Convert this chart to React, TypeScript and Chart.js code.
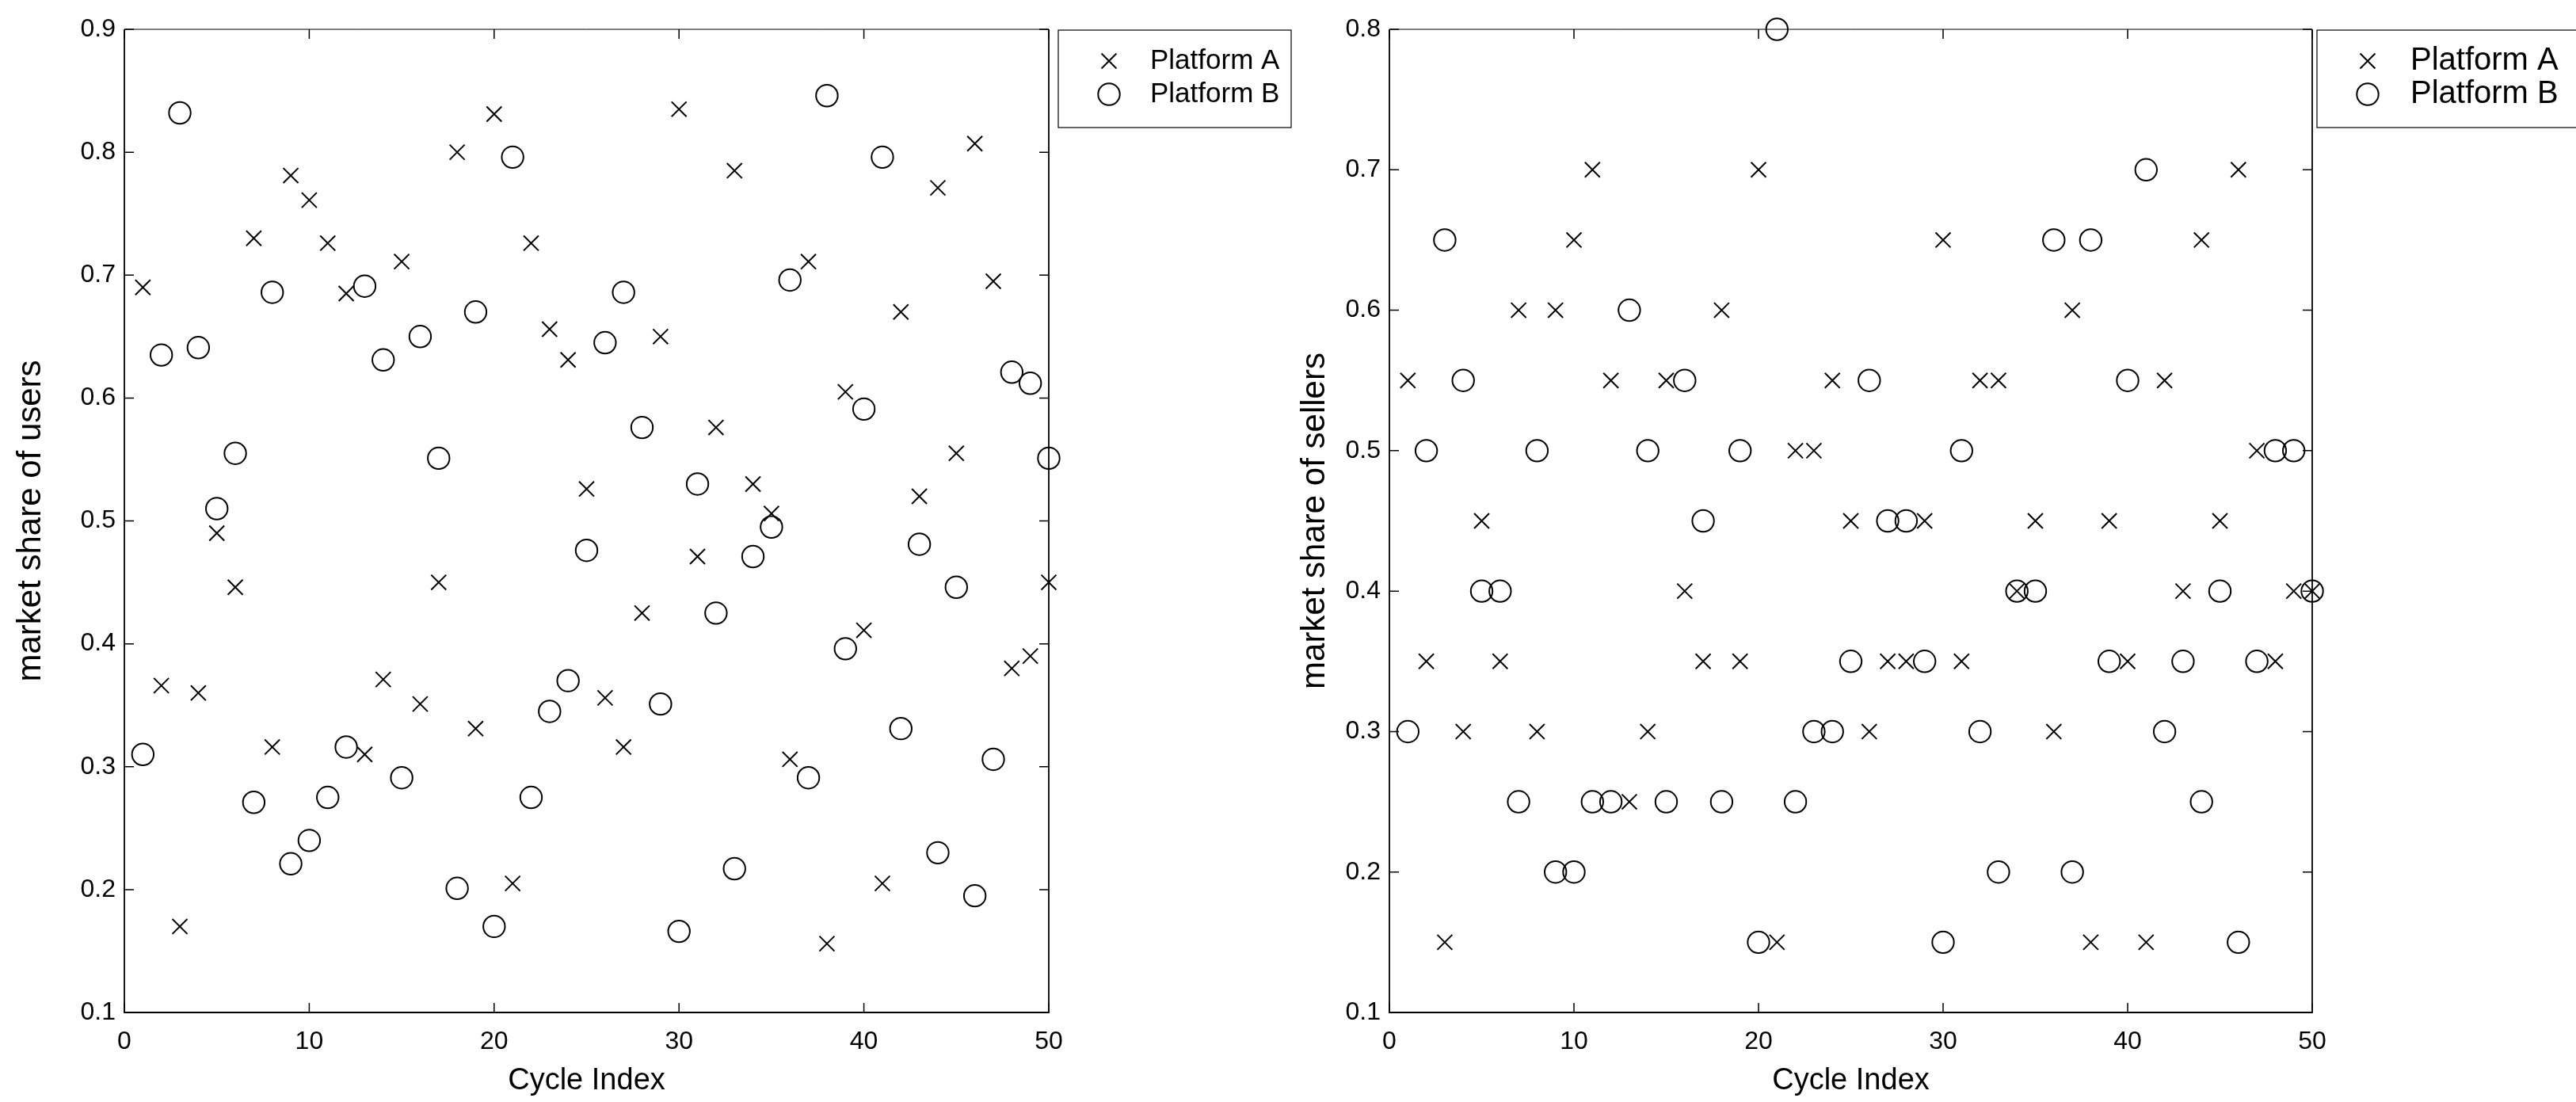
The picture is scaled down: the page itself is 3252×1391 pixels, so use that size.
import React, { useEffect, useRef } from 'react';
import { Chart, registerables } from 'chart.js';

Chart.register(...registerables);

// ---------------- data ----------------
const cycleIndex = [
  1, 2, 3, 4, 5, 6, 7, 8, 9, 10,
  11, 12, 13, 14, 15, 16, 17, 18, 19, 20,
  21, 22, 23, 24, 25, 26, 27, 28, 29, 30,
  31, 32, 33, 34, 35, 36, 37, 38, 39, 40,
  41, 42, 43, 44, 45, 46, 47, 48, 49, 50,
];

const usersPlatformA = [
  0.69, 0.366, 0.17, 0.36, 0.49, 0.446, 0.73, 0.316, 0.781, 0.761,
  0.726, 0.685, 0.31, 0.371, 0.711, 0.351, 0.45, 0.8, 0.331, 0.831,
  0.205, 0.726, 0.656, 0.631, 0.526, 0.356, 0.316, 0.425, 0.65, 0.835,
  0.471, 0.576, 0.785, 0.53, 0.506, 0.306, 0.711, 0.156, 0.605, 0.411,
  0.205, 0.67, 0.52, 0.771, 0.555, 0.807, 0.695, 0.38, 0.39, 0.45,
];

const usersPlatformB = [
  0.31, 0.635, 0.832, 0.641, 0.51, 0.555, 0.271, 0.686, 0.221, 0.24,
  0.275, 0.316, 0.691, 0.631, 0.291, 0.65, 0.551, 0.201, 0.67, 0.17,
  0.796, 0.275, 0.345, 0.37, 0.476, 0.645, 0.686, 0.576, 0.351, 0.166,
  0.53, 0.425, 0.217, 0.471, 0.495, 0.696, 0.291, 0.846, 0.396, 0.591,
  0.796, 0.331, 0.481, 0.23, 0.446, 0.195, 0.306, 0.621, 0.612, 0.551,
];

const sellersPlatformA = [
  0.55, 0.35, 0.15, 0.3, 0.45, 0.35, 0.6, 0.3, 0.6, 0.65,
  0.7, 0.55, 0.25, 0.3, 0.55, 0.4, 0.35, 0.6, 0.35, 0.7,
  0.15, 0.5, 0.5, 0.55, 0.45, 0.3, 0.35, 0.35, 0.45, 0.65,
  0.35, 0.55, 0.55, 0.4, 0.45, 0.3, 0.6, 0.15, 0.45, 0.35,
  0.15, 0.55, 0.4, 0.65, 0.45, 0.7, 0.5, 0.35, 0.4, 0.4,
];

const sellersPlatformB = [
  0.3, 0.5, 0.65, 0.55, 0.4, 0.4, 0.25, 0.5, 0.2, 0.2,
  0.25, 0.25, 0.6, 0.5, 0.25, 0.55, 0.45, 0.25, 0.5, 0.15,
  0.8, 0.25, 0.3, 0.3, 0.35, 0.55, 0.45, 0.45, 0.35, 0.15,
  0.5, 0.3, 0.2, 0.4, 0.4, 0.65, 0.2, 0.65, 0.35, 0.55,
  0.7, 0.3, 0.35, 0.25, 0.4, 0.15, 0.35, 0.5, 0.5, 0.4,
];

const xTickValues = [0, 10, 20, 30, 40, 50];
const usersYTickValues = [0.1, 0.2, 0.3, 0.4, 0.5, 0.6, 0.7, 0.8, 0.9];
const sellersYTickValues = [0.1, 0.2, 0.3, 0.4, 0.5, 0.6, 0.7, 0.8];
const seriesLabels = ['Platform A', 'Platform B'];
const xAxisTitle = 'Cycle Index';
const usersAxisTitle = 'market share of users';
const sellersAxisTitle = 'market share of sellers';

// ---------------- styling / layout ----------------
const FONT = '"Liberation Sans", Arial, Helvetica, sans-serif';
const CANVAS_H = 1391;
const CROSS_R = 13.4;
const CIRCLE_R = 13.7;
const MARK_W = 2;
const Y_TITLE_SIZE = 42;

type LegendSpec = {
  left: number; top: number; right: number; bottom: number;
  markerX: number; textX: number; rows: number[]; fontSize: number;
};

type PanelSpec = {
  left: number; width: number;
  yTitle: string; yMin: number; yMax: number; yTicks: number[];
  a: number[]; b: number[];
  yAxisWidth: number; padRight: number; yTitlePad: number;
  legend: LegendSpec;
};

function drawCross(ctx: CanvasRenderingContext2D, x: number, y: number) {
  const d = CROSS_R * Math.SQRT1_2;
  ctx.beginPath();
  ctx.moveTo(x - d, y - d); ctx.lineTo(x + d, y + d);
  ctx.moveTo(x - d, y + d); ctx.lineTo(x + d, y - d);
  ctx.stroke();
}
function drawCircle(ctx: CanvasRenderingContext2D, x: number, y: number) {
  ctx.beginPath();
  ctx.arc(x, y, CIRCLE_R, 0, Math.PI * 2);
  ctx.stroke();
}

function makePlugin(spec: PanelSpec) {
  return {
    id: 'frameAndLegend',
    beforeDatasetsDraw(chart: any) {
      const { ctx, chartArea } = chart;
      const { left, right, top, bottom } = chartArea;
      const xs = chart.scales.x;
      const ys = chart.scales.y;
      ctx.save();
      ctx.strokeStyle = '#000';
      // frame
      ctx.lineWidth = 1;
      ctx.beginPath();
      ctx.moveTo(left, top); ctx.lineTo(right, top);
      ctx.stroke();
      ctx.lineWidth = 1.8;
      ctx.beginPath();
      ctx.moveTo(left, top); ctx.lineTo(left, bottom); ctx.lineTo(right, bottom); ctx.lineTo(right, top);
      ctx.stroke();
      // inward ticks
      const tl = 12;
      ctx.lineWidth = 1.5;
      ctx.beginPath();
      xTickValues.forEach((v) => {
        const px = xs.getPixelForValue(v);
        ctx.moveTo(px, bottom); ctx.lineTo(px, bottom - tl);
        ctx.moveTo(px, top); ctx.lineTo(px, top + tl);
      });
      spec.yTicks.forEach((v) => {
        const py = ys.getPixelForValue(v);
        ctx.moveTo(left, py); ctx.lineTo(left + tl, py);
        ctx.moveTo(right, py); ctx.lineTo(right - tl, py);
      });
      ctx.stroke();
      ctx.restore();
    },
    afterDraw(chart: any) {
      const { ctx } = chart;
      const lg = spec.legend;
      ctx.save();
      ctx.fillStyle = '#fff';
      ctx.fillRect(lg.left, lg.top, lg.right - lg.left, lg.bottom - lg.top);
      ctx.strokeStyle = '#000';
      ctx.lineWidth = 1.2;
      ctx.strokeRect(lg.left, lg.top, lg.right - lg.left, lg.bottom - lg.top);
      ctx.lineWidth = MARK_W;
      drawCross(ctx, lg.markerX, lg.rows[0]);
      drawCircle(ctx, lg.markerX, lg.rows[1]);
      ctx.fillStyle = '#000';
      ctx.font = `${lg.fontSize}px ${FONT}`;
      ctx.textBaseline = 'middle';
      ctx.textAlign = 'left';
      chart.data.datasets.forEach((ds: any, i: number) => {
        ctx.fillText(ds.label, lg.textX, lg.rows[i]);
      });
      ctx.restore();
    },
  };
}

function buildConfig(spec: PanelSpec): any {
  const toPoints = (vals: number[]) => cycleIndex.map((x, i) => ({ x, y: vals[i] }));
  return {
    type: 'scatter',
    data: {
      datasets: [
        {
          label: seriesLabels[0],
          data: toPoints(spec.a),
          pointStyle: 'crossRot',
          pointRadius: CROSS_R,
          pointHoverRadius: CROSS_R,
          pointBorderColor: '#000',
          pointBackgroundColor: 'rgba(0,0,0,0)',
          pointBorderWidth: MARK_W,
          showLine: false,
          clip: false,
        },
        {
          label: seriesLabels[1],
          data: toPoints(spec.b),
          pointStyle: 'circle',
          pointRadius: CIRCLE_R,
          pointHoverRadius: CIRCLE_R,
          pointBorderColor: '#000',
          pointBackgroundColor: 'rgba(0,0,0,0)',
          pointBorderWidth: MARK_W,
          showLine: false,
          clip: false,
        },
      ],
    },
    options: {
      responsive: false,
      animation: false,
      events: [],
      layout: { padding: { left: 0, top: 37, right: spec.padRight, bottom: 0 } },
      plugins: {
        legend: { display: false },
        tooltip: { enabled: false },
        title: { display: false },
      },
      scales: {
        x: {
          type: 'linear',
          position: 'bottom',
          min: 0,
          max: 50,
          afterBuildTicks: (s: any) => { s.ticks = xTickValues.map((v) => ({ value: v })); },
          afterFit: (s: any) => { s.height = CANVAS_H - 1278; },
          grid: { display: false, drawTicks: false },
          border: { display: false },
          ticks: {
            color: '#000',
            font: { family: FONT, size: 32 },
            padding: 18,
            maxRotation: 0,
            autoSkip: false,
            callback: (v: any) => String(v),
          },
          title: {
            display: true,
            text: xAxisTitle,
            color: '#000',
            font: { family: FONT, size: 38 },
            padding: { top: 0, bottom: 4 },
          },
        },
        y: {
          type: 'linear',
          position: 'left',
          min: spec.yMin,
          max: spec.yMax,
          afterBuildTicks: (s: any) => { s.ticks = spec.yTicks.map((v) => ({ value: v })); },
          afterFit: (s: any) => { s.width = spec.yAxisWidth; },
          grid: { display: false, drawTicks: false },
          border: { display: false },
          ticks: {
            color: '#000',
            font: { family: FONT, size: 32 },
            padding: 11,
            autoSkip: false,
            callback: (v: any) => Number(v).toFixed(1),
          },
          title: {
            display: true,
            text: spec.yTitle,
            color: '#000',
            font: { family: FONT, size: Y_TITLE_SIZE },
            padding: { top: spec.yTitlePad, bottom: 0 },
          },
        },
      },
    },
    plugins: [makePlugin(spec)],
  };
}

const usersPanel: PanelSpec = {
  left: 0,
  width: 1700,
  yTitle: usersAxisTitle,
  yMin: 0.1,
  yMax: 0.9,
  yTicks: usersYTickValues,
  a: usersPlatformA,
  b: usersPlatformB,
  yAxisWidth: 157,
  padRight: 1700 - 1324,
  yTitlePad: 14,
  legend: { left: 1336, top: 38, right: 1630, bottom: 161, markerX: 1400, textX: 1452, rows: [77, 119], fontSize: 35 },
};

const sellersPanel: PanelSpec = {
  left: 1560,
  width: 1692,
  yTitle: sellersAxisTitle,
  yMin: 0.1,
  yMax: 0.8,
  yTicks: sellersYTickValues,
  a: sellersPlatformA,
  b: sellersPlatformB,
  yAxisWidth: 194,
  padRight: 1692 - 1359,
  yTitlePad: 75,
  legend: { left: 1365, top: 38, right: 1720, bottom: 161, markerX: 1429, textX: 1483, rows: [77, 119], fontSize: 40 },
};

function Panel({ spec }: { spec: PanelSpec }) {
  const ref = useRef<HTMLCanvasElement | null>(null);
  useEffect(() => {
    if (!ref.current) return;
    const chart = new Chart(ref.current, buildConfig(spec));
    return () => chart.destroy();
  }, [spec]);
  return (
    <canvas
      ref={ref}
      width={spec.width}
      height={CANVAS_H}
      style={{ position: 'absolute', left: spec.left, top: 0, width: spec.width, height: CANVAS_H }}
    />
  );
}

export default function App() {
  return (
    <div
      style={{
        position: 'absolute',
        left: 0,
        top: 0,
        width: 3252,
        height: CANVAS_H,
        background: '#fff',
        overflow: 'hidden',
      }}
    >
      <Panel spec={usersPanel} />
      <Panel spec={sellersPanel} />
    </div>
  );
}
